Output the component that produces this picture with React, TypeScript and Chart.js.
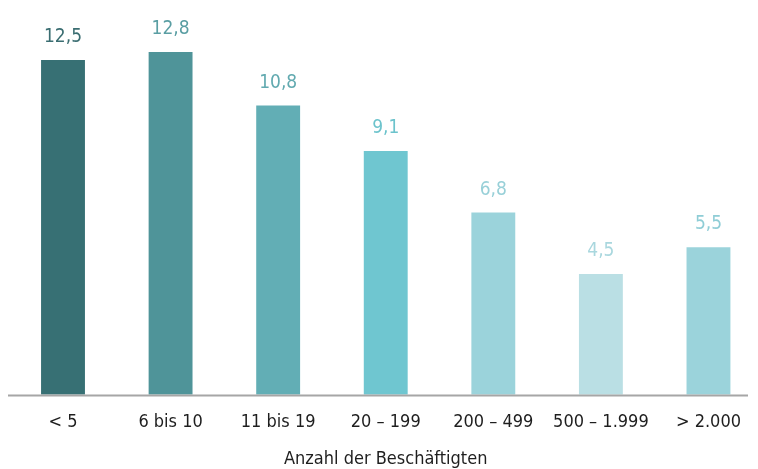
import React, { useEffect, useRef } from "react";
import { Chart, registerables } from "chart.js";

Chart.register(...registerables);

const categories = ["< 5", "6 bis 10", "11 bis 19", "20 – 199", "200 – 499", "500 – 1.999", "> 2.000"];
const values = [12.5, 12.8, 10.8, 9.1, 6.8, 4.5, 5.5];
const barColors = ["#377074", "#4f9499", "#62aeb5", "#6fc6d0", "#9bd3db", "#badfe4", "#9bd3db"];
const labelColors = ["#3a6d71", "#5a9ea3", "#62aab0", "#6cc3cc", "#98d0d8", "#a9d7de", "#8fcdd6"];
const axisTitle = "Anzahl der Beschäftigten";
const FONT = "'DejaVu Sans Condensed', 'Liberation Sans Narrow', sans-serif";

const fmt = (v: number) => v.toFixed(1).replace(".", ",");

const valueLabels = {
  id: "valueLabels",
  afterDatasetsDraw(chart: any) {
    const ctx = chart.ctx;
    const meta = chart.getDatasetMeta(0);
    ctx.save();
    ctx.font = `19px ${FONT}`;
    ctx.textAlign = "center";
    ctx.textBaseline = "alphabetic";
    meta.data.forEach((bar: any, i: number) => {
      ctx.fillStyle = labelColors[i];
      ctx.fillText(fmt(values[i]), bar.x, bar.y - 18);
    });
    ctx.restore();
  },
};

const baseLine = {
  id: "baseLine",
  afterDatasetsDraw(chart: any) {
    const ctx = chart.ctx;
    const y = chart.scales.y.getPixelForValue(0);
    ctx.save();
    ctx.strokeStyle = "#a6a6a6";
    ctx.lineWidth = 2;
    ctx.beginPath();
    ctx.moveTo(8, y + 1);
    ctx.lineTo(748, y + 1);
    ctx.stroke();
    ctx.restore();
  },
};

export default function App() {
  const ref = useRef<HTMLCanvasElement>(null);
  useEffect(() => {
    if (!ref.current) return;
    const chart = new Chart(ref.current, {
      type: "bar",
      data: {
        labels: categories,
        datasets: [
          {
            data: values,
            backgroundColor: barColors,
            barPercentage: 1,
            categoryPercentage: 0.408,
            clip: false as any,
          },
        ],
      },
      options: {
        animation: false,
        responsive: true,
        maintainAspectRatio: false,
        layout: { padding: { left: 63, right: 48, top: 20, bottom: 0 } },
        plugins: { legend: { display: false }, tooltip: { enabled: false } },
        scales: {
          x: {
            offset: false,
            grid: { display: false, drawTicks: false, tickLength: 0 },
            border: { display: false },
            ticks: { color: "#1e1e1e", font: { family: FONT, size: 18 }, padding: 17, maxRotation: 0, autoSkip: false },
            title: {
              display: true,
              text: axisTitle,
              color: "#1e1e1e",
              font: { family: FONT, size: 18, lineHeight: 1 },
              padding: { top: 0, bottom: 1 },
            },
          },
          y: { display: false, min: 0, max: 14 },
        },
      },
      plugins: [valueLabels, baseLine],
    });
    return () => chart.destroy();
  }, []);
  return (
    <div style={{ position: "fixed", left: 0, top: 0, width: 758, height: 469, background: "#fff" }}>
      <canvas ref={ref} />
    </div>
  );
}
